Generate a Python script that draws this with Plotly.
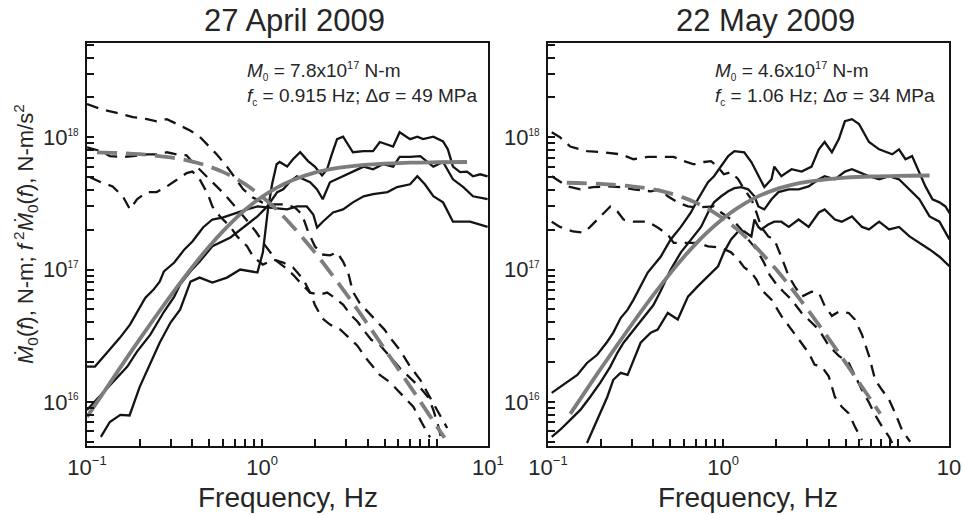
import plotly.graph_objects as go

# ---------------- 27 April 2009 (left panel) ----------------
apr_sA_f = [0.10, 0.111, 0.13, 0.154, 0.176, 0.193, 0.215, 0.24, 0.26, 0.275, 0.315, 0.36, 0.40, 0.46, 0.52, 0.60, 0.72, 0.82, 0.94, 1.07,
            1.27, 1.39, 1.58, 1.80, 1.96, 2.06, 2.22, 2.54, 2.90, 3.30, 3.80, 4.30, 5.20, 5.90, 7.00, 7.70, 8.50, 9.50, 10.8, 12.3,
            15.4, 17.6, 19.4]
apr_sA_v = [1.85e16, 1.85e16, 2.35e16, 3.05e16, 3.84e16, 4.8e16, 6.1e16, 7.06e16, 8.1e16, 9.7e16, 1.13e17, 1.42e17, 1.63e17, 2.08e17, 2.39e17, 2.48e17, 2.7e17, 2.85e17, 3.0e17, 2.95e17,
            2.85e17, 2.85e17, 3.0e17, 3.0e17, 2.61e17, 2.08e17, 2.3e17, 2.7e17, 2.85e17, 3.22e17, 3.58e17, 3.71e17, 3.85e17, 4.2e17, 4.41e17, 5.07e17, 4.41e17, 3.58e17, 3.22e17, 2.3e17,
            2.3e17, 2.19e17, 2.1e17]

apr_sB_f = [0.12, 0.135, 0.155, 0.175, 0.20, 0.23, 0.26, 0.30, 0.34, 0.39, 0.44, 0.52, 0.63, 0.75, 0.94, 1.01, 1.08, 1.14, 1.21, 1.26,
            1.39, 1.50, 1.65, 1.83, 2.00, 2.20, 2.35, 2.50, 2.68, 2.90, 3.30, 3.80, 4.30, 4.70, 5.60, 6.10, 7.00, 7.70, 8.30, 9.50,
            10.8, 11.5, 12.3, 13.5, 14.8, 16.0, 17.6, 19.4]
apr_sB_v = [5.44e15, 7.05e15, 7.98e15, 7.9e15, 1.30e16, 1.97e16, 2.80e16, 3.98e16, 4.98e16, 8.1e16, 8.7e16, 7.98e16, 8.7e16, 1.0e17, 9.5e16, 1.35e17, 2.85e17, 4.41e17, 6.25e17, 6.5e17,
            6.0e17, 6.82e17, 7.7e17, 6.6e17, 6.0e17, 5.15e17, 5.73e17, 7.43e17, 9.67e17, 1.01e18, 7.7e17, 7.85e17, 7.85e17, 9.2e17, 8.5e17, 1.09e18, 9.67e17, 1.01e18, 9.67e17, 1.01e18,
            9.3e17, 8.1e17, 6.0e17, 5.45e17, 5.5e17, 5.07e17, 5.25e17, 5.07e17]

apr_sC_f = [0.10, 0.12, 0.143, 0.17, 0.193, 0.23, 0.275, 0.315, 0.34, 0.39, 0.44, 0.52, 0.66, 0.82, 0.94, 1.07, 1.22, 1.32, 1.45, 1.58,
            1.72, 1.88, 2.06, 2.22, 2.44, 2.80, 3.30, 3.80, 4.30, 4.90, 5.60, 6.10, 7.00, 8.00, 9.50, 10.8, 12.3, 14.1, 16.0, 19.4]
apr_sC_v = [8.7e15, 1.13e16, 1.47e16, 1.85e16, 2.4e16, 3.22e16, 4.8e16, 6.25e16, 7.71e16, 9.7e16, 1.15e17, 1.5e17, 1.75e17, 2.19e17, 2.52e17, 3.0e17, 3.85e17, 4.04e17, 4.65e17, 5.07e17,
            4.81e17, 4.57e17, 4.04e17, 3.4e17, 4.57e17, 4.98e17, 5.5e17, 6.0e17, 5.73e17, 6.25e17, 6.0e17, 7.1e17, 7.1e17, 7.2e17, 6.0e17, 6.5e17, 4.81e17, 4.2e17, 3.58e17, 3.4e17]

apr_d1_f = [0.10, 0.12, 0.148, 0.183, 0.22, 0.25, 0.286, 0.34, 0.39, 0.44, 0.50, 0.55, 0.63, 0.70, 0.78, 0.88, 1.0, 1.14, 1.35, 1.54,
            1.69, 1.83, 2.0, 2.2, 2.44, 2.68, 2.9, 3.1, 3.3, 3.6, 4.0, 4.5, 5.0, 5.5, 6.1, 7.0, 8.0, 9.1, 10.0, 11.4]
apr_d1_v = [1.78e18, 1.63e18, 1.53e18, 1.42e18, 1.37e18, 1.32e18, 1.37e18, 1.23e18, 1.12e18, 1.01e18, 8.5e17, 7.43e17, 6.0e17, 4.98e17, 4.04e17, 3.52e17, 3.22e17, 3.11e17, 3.11e17, 2.95e17,
            2.61e17, 1.94e17, 1.5e17, 1.30e17, 1.28e17, 1.35e17, 1.15e17, 9.5e16, 6.8e16, 5.6e16, 4.8e16, 4.05e16, 3.52e16, 2.95e16, 2.48e16, 1.85e16, 1.47e16, 1.08e16, 8.7e15, 6.35e15]

apr_d2_f = [0.10, 0.12, 0.135, 0.16, 0.183, 0.22, 0.26, 0.286, 0.325, 0.37, 0.41, 0.45, 0.50, 0.55, 0.61, 0.68, 0.75, 0.83, 0.92, 1.03,
            1.11, 1.22, 1.35, 1.5, 1.65, 1.88, 2.14, 2.35, 2.54, 2.9, 3.2, 3.5, 3.9, 4.2, 4.7, 5.4, 6.1, 7.0, 8.0, 8.9,
            9.5, 10.1, 10.6]
apr_d2_v = [8.4e17, 7.85e17, 7.2e17, 7.1e17, 7.2e17, 7.43e17, 7.43e17, 7.7e17, 7.43e17, 7.3e17, 6.25e17, 5.5e17, 4.81e17, 4.25e17, 3.71e17, 3.11e17, 2.7e17, 2.3e17, 1.94e17, 1.55e17,
            1.35e17, 1.15e17, 1.04e17, 9.17e16, 7.98e16, 6.7e16, 6.47e16, 6.7e16, 6.25e16, 5.43e16, 4.56e16, 4.05e16, 3.34e16, 2.95e16, 2.7e16, 2.16e16, 1.81e16, 1.52e16, 1.28e16, 1.08e16,
            8.7e15, 6.7e15, 5.16e15]

apr_d3_f = [0.104, 0.12, 0.14, 0.16, 0.176, 0.193, 0.22, 0.25, 0.286, 0.33, 0.37, 0.40, 0.44, 0.49, 0.52, 0.575, 0.66, 0.72, 0.82, 0.89,
            1.01, 1.16, 1.32, 1.5, 1.72, 1.88, 2.0, 2.2, 2.44, 2.8, 3.2, 3.5, 3.9, 4.3, 4.7, 5.4, 6.1, 7.3, 8.3, 9.1]
apr_d3_v = [4.98e17, 4.57e17, 4.25e17, 3.58e17, 2.85e17, 3.4e17, 3.85e17, 3.85e17, 4.25e17, 4.81e17, 5.35e17, 5.5e17, 4.81e17, 3.71e17, 3.0e17, 2.52e17, 2.1e17, 1.78e17, 1.5e17, 1.25e17,
            1.09e17, 1.19e17, 1.13e17, 1.04e17, 8.41e16, 6.7e16, 5.43e16, 4.3e16, 3.84e16, 3.52e16, 2.95e16, 2.66e16, 2.16e16, 1.85e16, 1.6e16, 1.4e16, 1.18e16, 9.2e15, 6.7e15, 5.4e15]

apr_model_rate_f = [0.114, 0.15, 0.2, 0.3, 0.4, 0.5, 0.6, 0.7, 0.8, 0.9, 1.0, 1.2, 1.5, 2.0, 2.5, 3.0, 4.0, 5.0, 6.0, 7.0, 8.0, 9.0, 10.0, 11.0]
apr_model_rate_v = [7.68e17, 7.6e17, 7.44e17, 7.04e17, 6.55e17, 6.0e17, 5.45e17, 4.92e17, 4.42e17, 3.96e17, 3.55e17, 2.87e17, 2.11e17, 1.35e17, 9.2e16, 6.64e16, 3.88e16, 2.52e16, 1.77e16, 1.31e16, 1.01e16, 7.98e15, 6.47e15, 5.36e15]
apr_model_acc_f = [0.1, 0.12, 0.15, 0.2, 0.25, 0.3, 0.4, 0.5, 0.6, 0.7, 0.8, 1.0, 1.2, 1.5, 2.0, 2.5, 3.0, 4.0, 5.0, 7.0, 10.0, 14.8]
apr_model_acc_v = [7.71e15, 1.10e16, 1.71e16, 2.98e16, 4.54e16, 6.34e16, 1.048e17, 1.50e17, 1.96e17, 2.41e17, 2.83e17, 3.55e17, 4.13e17, 4.76e17, 5.40e17, 5.76e17, 5.97e17, 6.21e17, 6.31e17, 6.42e17, 6.47e17, 6.5e17]

# ---------------- 22 May 2009 (right panel) ----------------
may_s1_f = [0.105, 0.122, 0.147, 0.167, 0.191, 0.218, 0.236, 0.26, 0.285, 0.308, 0.371, 0.44, 0.502, 0.574, 0.655, 0.718, 0.82, 0.887, 0.975, 1.07,
            1.16, 1.32, 1.45, 1.59, 1.72, 1.89, 1.96, 2.15, 2.46, 2.81, 3.2, 3.52, 3.8, 4.18, 4.58, 4.96, 5.44, 5.97, 6.81, 7.78,
            9.24, 10.1, 11.0, 12.0, 13.2, 14.3, 15.7, 17.2, 18.6, 19.9]
may_s1_v = [1.17e16, 1.35e16, 1.6e16, 1.97e16, 2.27e16, 2.85e16, 3.34e16, 4.3e16, 4.98e16, 5.93e16, 9.5e16, 1.25e17, 1.69e17, 2.1e17, 2.7e17, 3.4e17, 4.57e17, 5.07e17, 6.0e17, 7.2e17,
            7.85e17, 7.7e17, 6.5e17, 5.07e17, 4.2e17, 4.81e17, 6.0e17, 5.07e17, 5.73e17, 5.5e17, 6.0e17, 8.1e17, 9.2e17, 7.7e17, 9.67e17, 1.32e18, 1.37e18, 1.26e18, 9.2e17, 8.1e17,
            7.43e17, 8.1e17, 6.82e17, 7.2e17, 5.45e17, 4.25e17, 3.4e17, 3.22e17, 3.0e17, 2.61e17]

may_s2_f = [0.105, 0.117, 0.134, 0.153, 0.174, 0.199, 0.227, 0.249, 0.27, 0.308, 0.352, 0.40, 0.44, 0.502, 0.574, 0.655, 0.748, 0.82, 0.887, 0.975,
            1.07, 1.16, 1.27, 1.39, 1.51, 1.59, 1.72, 1.89, 2.07, 2.37, 2.70, 3.08, 3.52, 3.8, 4.35, 4.96, 5.44, 5.97, 6.81, 7.78,
            8.87, 10.1, 11.6, 13.2, 15.1, 17.2, 19.6]
may_s2_v = [5.44e15, 6.14e15, 7.31e15, 8.7e15, 1.09e16, 1.4e16, 1.85e16, 2.35e16, 2.8e16, 3.5e16, 4.3e16, 5.4e16, 6.9e16, 1.0e17, 1.35e17, 1.69e17, 2.1e17, 2.7e17, 3.22e17, 3.58e17,
            3.9e17, 4.12e17, 4.2e17, 4.04e17, 3.58e17, 3.0e17, 2.85e17, 3.4e17, 3.85e17, 4.04e17, 4.04e17, 4.25e17, 4.81e17, 5.07e17, 4.81e17, 5.5e17, 5.73e17, 5.45e17, 5.07e17, 4.81e17,
            5.07e17, 4.81e17, 4.04e17, 3.4e17, 2.52e17, 2.3e17, 1.69e17]

may_s3_f = [0.167, 0.191, 0.218, 0.236, 0.26, 0.285, 0.308, 0.338, 0.386, 0.423, 0.483, 0.551, 0.597, 0.63, 0.718, 0.82, 0.936, 1.01, 1.11, 1.22,
            1.32, 1.45, 1.51, 1.59, 1.65, 1.81, 1.96, 2.15, 2.37, 2.70, 3.08, 3.52, 3.8, 4.35, 4.76, 5.44, 6.21, 6.81, 7.78, 8.87,
            10.1, 11.6, 13.2, 15.1, 17.2, 19.6]
may_s3_v = [4.9e15, 7.31e15, 1.09e16, 1.47e16, 1.66e16, 1.6e16, 2.08e16, 2.8e16, 3.34e16, 3.52e16, 4.7e16, 4.19e16, 5.33e16, 6.25e16, 7.5e16, 8.9e16, 1.06e17, 1.35e17, 1.69e17, 1.94e17,
            1.94e17, 1.78e17, 2.39e17, 2.1e17, 2.01e17, 2.19e17, 2.3e17, 2.3e17, 2.1e17, 2.39e17, 2.1e17, 2.7e17, 2.85e17, 2.39e17, 2.3e17, 2.52e17, 2.1e17, 2.01e17, 2.3e17, 2.01e17,
            2.1e17, 1.78e17, 1.6e17, 1.42e17, 1.25e17, 1.06e17]

may_d1_f = [0.105, 0.117, 0.134, 0.167, 0.207, 0.26, 0.308, 0.371, 0.44, 0.522, 0.597, 0.681, 0.778, 0.853, 0.936, 1.01, 1.11, 1.22, 1.32, 1.45,
            1.55, 1.65, 1.81, 1.96, 2.15, 2.37, 2.56, 2.81, 3.2, 3.52, 3.8, 4.18, 4.58, 5.22, 5.66, 6.21, 6.81, 7.38, 8.09, 8.87,
            9.62, 10.5, 11.7]
may_d1_v = [1.09e18, 1.0e18, 8.5e17, 7.85e17, 7.7e17, 7.43e17, 6.82e17, 7.1e17, 7.1e17, 7.1e17, 6.6e17, 6.25e17, 6.5e17, 6.6e17, 5.95e17, 5.25e17, 5.45e17, 4.81e17, 4.04e17, 3.4e17,
            2.7e17, 2.1e17, 1.78e17, 1.69e17, 1.25e17, 8.9e16, 7.5e16, 6.25e16, 6.8e16, 6.7e16, 5.33e16, 4.47e16, 4.8e16, 4.7e16, 4.19e16, 3.22e16, 2.23e16, 1.47e16, 1.23e16, 1.04e16,
            8.2e15, 6.14e15, 5.0e15]

may_d2_f = [0.105, 0.129, 0.153, 0.181, 0.218, 0.26, 0.308, 0.386, 0.44, 0.483, 0.551, 0.63, 0.718, 0.82, 0.887, 0.975, 1.07, 1.16, 1.27, 1.39,
            1.55, 1.70, 1.84, 2.02, 2.21, 2.46, 2.81, 3.2, 3.52, 4.01, 4.58, 5.22, 5.66, 6.21, 6.81, 7.38, 8.09, 8.87, 9.24]
may_d2_v = [5.07e17, 4.25e17, 4.04e17, 4.2e17, 4.25e17, 4.2e17, 4.04e17, 3.9e17, 4.04e17, 3.58e17, 3.22e17, 3.0e17, 2.95e17, 3.0e17, 3.0e17, 2.7e17, 2.48e17, 2.3e17, 2.01e17, 1.69e17,
            1.42e17, 1.15e17, 9.17e16, 7.71e16, 6.8e16, 5.93e16, 4.7e16, 3.98e16, 3.52e16, 2.66e16, 2.23e16, 1.97e16, 1.56e16, 1.23e16, 9.9e15, 7.98e15, 6.5e15, 5.44e15, 4.9e15]

may_d3_f = [0.105, 0.117, 0.139, 0.159, 0.174, 0.199, 0.227, 0.249, 0.27, 0.308, 0.371, 0.423, 0.483, 0.522, 0.63, 0.718, 0.82, 0.975, 1.11, 1.22,
            1.32, 1.45, 1.55, 1.65, 1.72, 1.89, 2.15, 2.46, 2.70, 3.08, 3.33, 3.66, 4.01, 4.35, 4.76, 5.22, 5.66, 6.21]
may_d3_v = [2.3e17, 2.1e17, 1.94e17, 1.9e17, 2.1e17, 2.52e17, 3.0e17, 2.75e17, 2.39e17, 2.3e17, 2.3e17, 2.08e17, 1.84e17, 1.59e17, 1.59e17, 1.59e17, 1.5e17, 1.46e17, 1.35e17, 1.19e17,
            1.04e17, 9.5e16, 8.41e16, 7.06e16, 6.7e16, 5.93e16, 4.47e16, 3.52e16, 2.95e16, 2.35e16, 1.91e16, 1.85e16, 1.56e16, 1.09e16, 9.2e15, 8.2e15, 6.5e15, 5.16e15]

may_model_rate_f = [0.128, 0.2, 0.3, 0.4, 0.5, 0.6, 0.7, 0.8, 1.0, 1.2, 1.5, 2.0, 2.5, 3.0, 4.0, 5.0, 6.0, 7.0, 7.9]
may_model_rate_v = [4.53e17, 4.44e17, 4.26e17, 4.03e17, 3.76e17, 3.48e17, 3.2e17, 2.93e17, 2.43e17, 2.02e17, 1.53e17, 1.01e17, 7.01e16, 5.1e16, 3.02e16, 1.98e16, 1.39e16, 1.03e16, 8.14e15]
may_model_acc_f = [0.134, 0.15, 0.2, 0.25, 0.3, 0.4, 0.5, 0.6, 0.7, 0.8, 1.0, 1.2, 1.5, 2.0, 2.5, 3.0, 4.0, 5.0, 7.0, 10.0, 15.1]
may_model_acc_v = [8.13e15, 1.015e16, 1.78e16, 2.72e16, 3.83e16, 6.44e16, 9.41e16, 1.255e17, 1.57e17, 1.875e17, 2.43e17, 2.9e17, 3.45e17, 4.04e17, 4.38e17, 4.59e17, 4.83e17, 4.95e17, 5.05e17, 5.11e17, 5.14e17]

# ---------------- ticks ----------------
def sup(t, px):
    return "<sup><span style='font-size:%dpx'>%s</span></sup>" % (px, t)

x_tick_vals = [0.1, 0.2, 0.3, 0.4, 0.5, 0.6, 0.7, 0.8, 0.9, 1, 2, 3, 4, 5, 6, 7, 8, 9, 10, 19.48]
x_major_left = {0.1: "10" + sup("−1", 13), 1: "10" + sup("0", 13), 19.48: "10" + sup("1", 13)}
x_major_right = {0.1: "10" + sup("−1", 13), 1: "10" + sup("0", 13), 19.48: "10"}
y_tick_vals = [5e15, 6e15, 7e15, 8e15, 9e15,
               1e16, 2e16, 3e16, 4e16, 5e16, 6e16, 7e16, 8e16, 9e16,
               1e17, 2e17, 3e17, 4e17, 5e17, 6e17, 7e17, 8e17, 9e17,
               1e18, 2e18, 3e18, 4e18, 5e18]
y_major = {1e16: "10" + sup("16", 10), 1e17: "10" + sup("17", 10), 1e18: "10" + sup("18", 10)}

FONT = "Liberation Sans, Arial, Helvetica, sans-serif"
BLACK = "#141414"
GRAY = "#7d7d7d"
TXT = "#262626"

fig = go.Figure()

def line(f, v, xa, ya, color, width, dash="solid", shape="linear"):
    fig.add_trace(go.Scatter(x=f, y=v, mode="lines", xaxis=xa, yaxis=ya,
                             line=dict(color=color, width=width, dash=dash, shape=shape),
                             showlegend=False, hoverinfo="skip"))

BDASH = "12px,8px"
GDASH = "20px,9px"
LW = 2.3

for f, v in [(apr_d1_f, apr_d1_v), (apr_d2_f, apr_d2_v), (apr_d3_f, apr_d3_v)]:
    line(f, v, "x", "y", BLACK, LW, BDASH)
for f, v in [(apr_sA_f, apr_sA_v), (apr_sB_f, apr_sB_v), (apr_sC_f, apr_sC_v)]:
    line(f, v, "x", "y", BLACK, LW)
line(apr_model_rate_f, apr_model_rate_v, "x", "y", GRAY, 3.8, GDASH, "spline")
line(apr_model_acc_f, apr_model_acc_v, "x", "y", GRAY, 3.8, "solid", "spline")

for f, v in [(may_d1_f, may_d1_v), (may_d2_f, may_d2_v), (may_d3_f, may_d3_v)]:
    line(f, v, "x2", "y2", BLACK, LW, BDASH)
for f, v in [(may_s1_f, may_s1_v), (may_s2_f, may_s2_v), (may_s3_f, may_s3_v)]:
    line(f, v, "x2", "y2", BLACK, LW)
line(may_model_rate_f, may_model_rate_v, "x2", "y2", GRAY, 3.8, GDASH, "spline")
line(may_model_acc_f, may_model_acc_v, "x2", "y2", GRAY, 3.8, "solid", "spline")

W, H = 963, 515
def xdom(a, b):
    return [a / W, b / W]
ydom = [(H - 446) / H, (H - 43) / H]

def xaxis(dom, anchor, labels):
    return dict(type="log", range=[-1, 1.29], domain=dom, anchor=anchor,
                showline=True, linecolor=BLACK, linewidth=2.2, mirror=True,
                ticks="inside", ticklen=7, tickwidth=1.5, tickcolor=BLACK,
                tickmode="array", tickvals=x_tick_vals,
                ticktext=[labels.get(t, "") for t in x_tick_vals],
                tickfont=dict(family=FONT, size=22, color=TXT),
                automargin=False,
                showgrid=False, zeroline=False, fixedrange=True)

def yaxis(anchor):
    return dict(type="log", range=[15.667, 18.712], domain=ydom, anchor=anchor,
                showline=True, linecolor=BLACK, linewidth=2.2, mirror=True,
                ticks="inside", ticklen=7, tickwidth=1.5, tickcolor=BLACK,
                tickmode="array", tickvals=y_tick_vals,
                ticktext=[y_major.get(t, "") for t in y_tick_vals],
                tickfont=dict(family=FONT, size=22, color=TXT),
                ticklabelstandoff=2, automargin=False,
                showgrid=False, zeroline=False, fixedrange=True)

anns = []
def pann(x, y, text, size, xanchor="center", angle=0):
    anns.append(dict(x=x / W, y=(H - y) / H, xref="paper", yref="paper", text=text,
                     showarrow=False, xanchor=xanchor, yanchor="middle", textangle=angle,
                     font=dict(family=FONT, size=size, color=TXT)))

SUB0 = "<sub><span style='font-size:10px'>0</span></sub>"
SUBC = "<sub><span style='font-size:10px'>c</span></sub>"
pann(294, 21, "27 April 2009", 31)
pann(765, 21, "22 May 2009", 31)
pann(288, 497, "Frequency, Hz", 28)
pann(748, 497, "Frequency, Hz", 28)
pann(245, 71, "<i>M</i>" + SUB0 + " = 7.8x10" + sup("17", 11) + " N-m", 19, "left")
pann(245, 97, "<i>f</i>" + SUBC + " = 0.915 Hz; Δσ = 49 MPa", 19, "left")
pann(713, 71, "<i>M</i>" + SUB0 + " = 4.6x10" + sup("17", 11) + " N-m", 19, "left")
pann(713, 97, "<i>f</i>" + SUBC + " = 1.06 Hz; Δσ = 34 MPa", 19, "left")
pann(25, 234, "<i>\u1E40</i><sub>0</sub>(<i>f</i>), N-m; <i>f</i><sup> 2</sup><i>\u1E40</i><sub>0</sub>(<i>f</i>), N-m/s<sup>2</sup>", 22, "center", -90)

fig.update_layout(
    width=W, height=H, autosize=False,
    margin=dict(l=0, r=0, t=0, b=0, pad=0, autoexpand=False),
    paper_bgcolor="white", plot_bgcolor="white",
    xaxis=xaxis(xdom(87, 488), "y", x_major_left),
    yaxis=yaxis("x"),
    xaxis2=xaxis(xdom(548, 949), "y2", x_major_right),
    yaxis2=yaxis("x2"),
    annotations=anns,
    showlegend=False,
)

fig.write_html("out.html", config={"responsive": False, "displayModeBar": False},
               post_script="document.body.style.margin='0';document.body.style.overflow='hidden';")
